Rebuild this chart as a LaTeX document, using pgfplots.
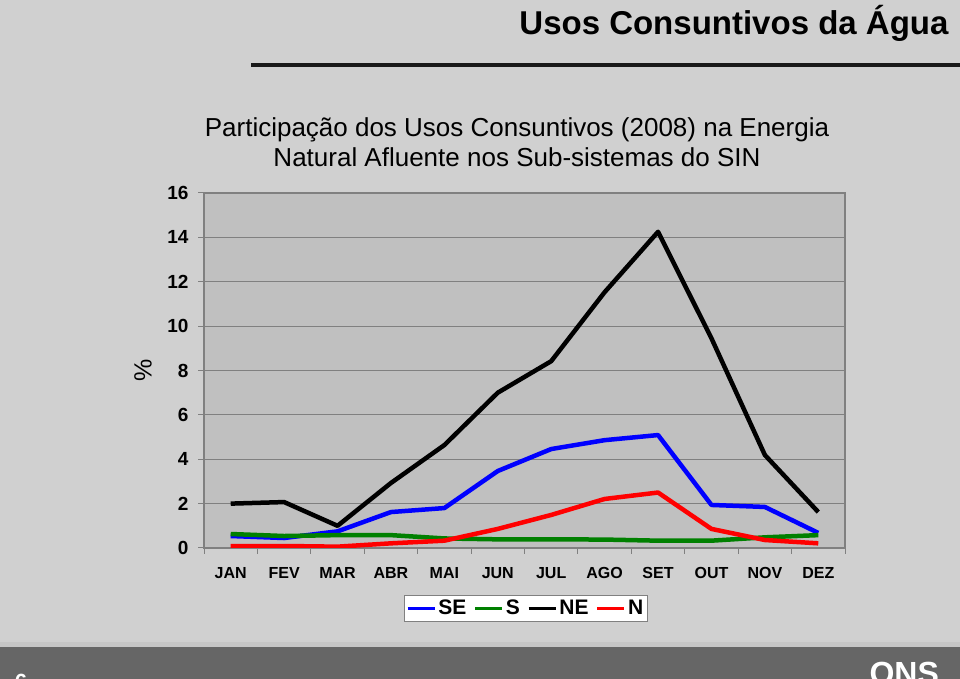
\documentclass[border=0pt]{standalone}
\usepackage{pgfplots}
\pgfplotsset{compat=1.18}
\usepackage{fontspec}
\setmainfont{Liberation Sans}
\definecolor{slidebg}{HTML}{D0D0D0}
\definecolor{plotbg}{HTML}{C0C0C0}
\definecolor{gridc}{HTML}{808080}
\definecolor{barc}{HTML}{666666}
\definecolor{stripc}{HTML}{C6C6C6}
\definecolor{seblue}{HTML}{0000FF}
\definecolor{sgreen}{HTML}{008000}
\definecolor{nred}{HTML}{FF0000}
\begin{document}
\begin{tikzpicture}[x=1pt,y=1pt]
\path[use as bounding box] (0,0) rectangle (960,679);
\fill[slidebg] (0,0) rectangle (960,679);
\fill[stripc] (0,32) rectangle (960,37);
\fill[barc] (0,0) rectangle (960,32);
\draw[line width=4pt, black!90] (251,614) -- (960,614);
\node[anchor=base east, font=\bfseries\fontsize{33}{36}\selectfont] at (952,644) {Usos Consuntivos da Água};
\node[align=center, font=\fontsize{26}{30}\selectfont, anchor=base] at (517,512) {Participação dos Usos Consuntivos (2008) na Energia\\Natural Afluente nos Sub-sistemas do SIN};
\begin{scope}
\clip (0,0) rectangle (960,679);
\node[anchor=north, text=white, font=\bfseries\fontsize{22}{24}\selectfont] at (21,8) {6};
\node[anchor=north west, text=white, font=\bfseries\fontsize{32}{34}\selectfont] at (866,20) {ONS};
\end{scope}
\begin{axis}[
  anchor=south west, at={(204pt,131pt)},
  width=641pt, height=355pt, scale only axis,
  xmin=-0.5, xmax=11.5, ymin=0, ymax=16,
  xtick={0,...,11},
  xticklabels={JAN,FEV,MAR,ABR,MAI,JUN,JUL,AGO,SET,OUT,NOV,DEZ},
  minor xtick={-0.5,0.5,...,11.5},
  ytick={0,2,...,16},
  major x tick style={draw=none},
  tick align=outside, major tick length=6pt, minor tick length=6pt,
  tick style={gridc, line width=1pt},
  xtick pos=bottom, ytick pos=left,
  ymajorgrids, grid style={gridc, line width=1.2pt},
  axis line style={gridc, line width=1.5pt},
  axis background/.style={fill=plotbg},
  /pgf/number format/assume math mode=true,
  xticklabel style={font=\bfseries\fontsize{16}{18}\selectfont, yshift=-10pt},
  yticklabel style={font=\bfseries\fontsize{19}{21}\selectfont, xshift=-6pt},
  ylabel={\%},
  every axis y label/.style={at={(rel axis cs:0,0.5)}, anchor=center, xshift=-61pt, rotate=90, font=\fontsize{25}{27}\selectfont},
  legend columns=4,
  legend style={at={(0.5016,-0.1324)}, anchor=north, draw=gridc, fill=white,
    font=\bfseries\fontsize{21}{23}\selectfont, inner xsep=2pt, inner ysep=3pt,
    nodes={inner xsep=2pt, inner ysep=2pt},
    /tikz/every even column/.append style={column sep=5pt}},
  legend image code/.code={\draw[#1, line width=3.5pt] (0pt,0pt) -- (27pt,0pt);},
  every axis plot/.append style={line width=4.5pt, line join=round},
]
\addplot[seblue] coordinates {(0,0.54) (1,0.45) (2,0.75) (3,1.62) (4,1.80) (5,3.47) (6,4.46) (7,4.86) (8,5.09) (9,1.94) (10,1.85) (11,0.68)};
\addlegendentry{SE}
\addplot[sgreen] coordinates {(0,0.63) (1,0.54) (2,0.58) (3,0.58) (4,0.43) (5,0.39) (6,0.39) (7,0.38) (8,0.33) (9,0.33) (10,0.48) (11,0.58)};
\addlegendentry{S}
\addplot[black] coordinates {(0,2.00) (1,2.07) (2,1.00) (3,2.93) (4,4.64) (5,7.00) (6,8.42) (7,11.53) (8,14.25) (9,9.45) (10,4.19) (11,1.62)};
\addlegendentry{NE}
\addplot[nred] coordinates {(0,0.09) (1,0.09) (2,0.06) (3,0.21) (4,0.33) (5,0.86) (6,1.49) (7,2.21) (8,2.50) (9,0.86) (10,0.36) (11,0.21)};
\addlegendentry{N}
\end{axis}
\end{tikzpicture}
\end{document}
